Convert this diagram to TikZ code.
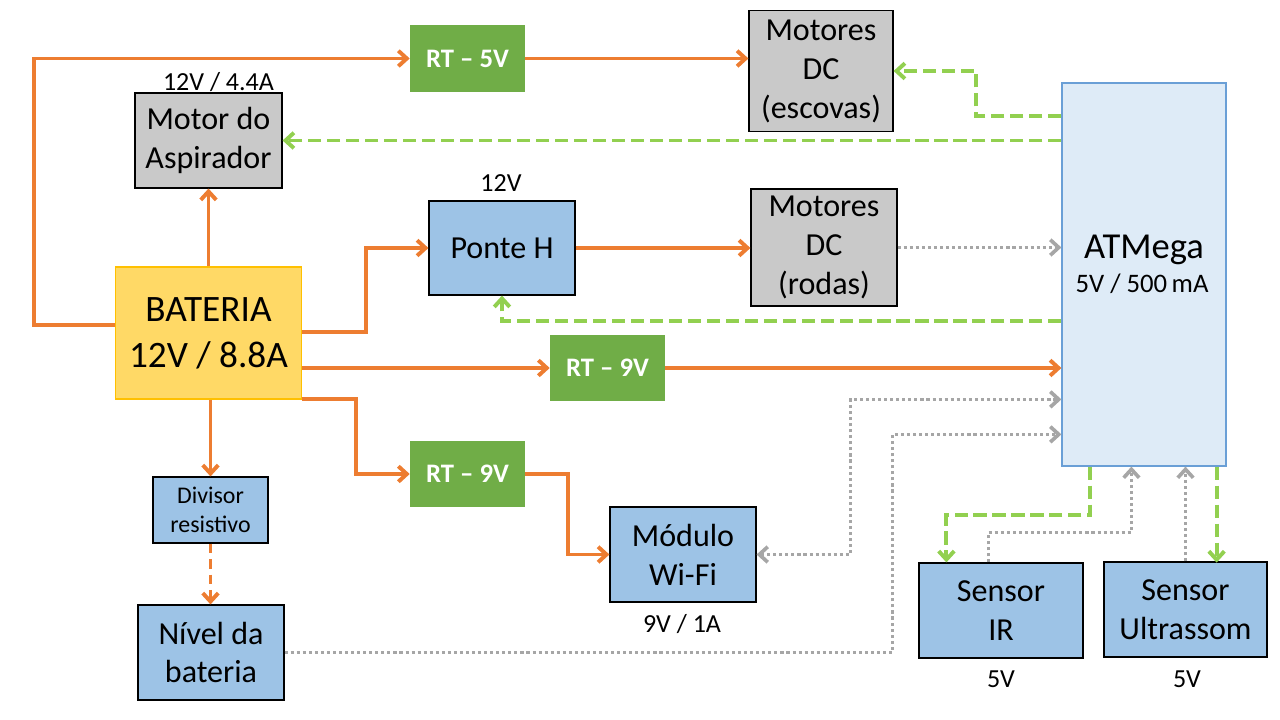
\documentclass[tikz,border=0pt]{standalone}
\usepackage{fontspec}
\setmainfont{Carlito}
\usetikzlibrary{arrows.meta,calc}
\definecolor{orng}{HTML}{ED7D31}
\definecolor{grn}{HTML}{92D050}
\definecolor{gry}{HTML}{A6A6A6}
\definecolor{boxgray}{HTML}{C9C9C9}
\definecolor{boxblue}{HTML}{9DC3E6}
\definecolor{rtgreen}{HTML}{70AD47}
\definecolor{batfill}{HTML}{FFD966}
\definecolor{batedge}{HTML}{FFC000}
\definecolor{atmfill}{HTML}{DEEBF7}
\definecolor{atmedge}{HTML}{6A9FD6}
\tikzset{
 blk/.style={draw=black, line width=0.8pt, align=center, inner sep=0pt, font=\fontsize{22.8}{27.7}\selectfont},
 grayblk/.style={blk, fill=boxgray},
 blueblk/.style={blk, fill=boxblue},
 rtblk/.style={fill=rtgreen, text=white, inner sep=0pt, font=\fontsize{19}{22}\selectfont\bfseries, minimum width=2.875cm, minimum height=1.66cm},
 lbl/.style={inner sep=0pt, anchor=base, font=\fontsize{18.5}{22}\selectfont},
 pw/.style={draw=orng, line width=2.8pt, ->},
 ctl/.style={draw=grn, line width=2.8pt, dash pattern=on 9.3pt off 4.2pt, ->},
 sig/.style={draw=gry, line width=2.6pt, dash pattern=on 2.2pt off 2.1pt, ->},
}
\begin{document}
\begin{tikzpicture}[x=0.025cm, y=-0.025cm, >={Straight Barb[length=6pt,width=11pt]}]
\useasboundingbox (0,0) rectangle (1280,720);
% nodes
\node[rtblk] (rt5) at (467.5,58.5) {RT – 5V};
\node[grayblk, minimum width=3.6cm, minimum height=3.025cm] (mesc) at (821,71) {Motores\\DC\\(escovas)};
\node[grayblk, minimum width=3.675cm, minimum height=2.375cm] (asp) at (208.5,140.5) {Motor do\\Aspirador};
\node[lbl] (asplbl) at (218.5,91) {12V / \underline{4.4A}};
\node[blueblk, minimum width=3.65cm, minimum height=2.35cm] (ponte) at (502,248) {Ponte H};
\node[lbl] (pontelbl) at (501,192) {12V};
\node[grayblk, minimum width=3.65cm, minimum height=2.925cm] (rodas) at (824,247.5) {Motores\\DC\\(rodas)};
\node[draw=atmedge, fill=atmfill, line width=0.8pt, inner sep=0pt, minimum width=4.1cm, minimum height=9.575cm] (atm) at (1144,274.5) {};
\node[inner sep=0pt, anchor=base, font=\fontsize{26}{30}\selectfont] (atmtxt) at (1144,259) {ATMega};
\node[lbl, font=\fontsize{19}{22}\selectfont] (atmsub) at (1142,293) {5V / 500\,mA};
\node[blk, draw=batedge, fill=batfill, line width=0.8pt, minimum width=4.65cm, minimum height=3.3cm, font=\fontsize{26.5}{32.5}\selectfont] (bat) at (208.5,333) {BATERIA\\12V / 8.8A};
\node[rtblk] (rt9a) at (607.5,368) {RT – 9V};
\node[rtblk] (rt9b) at (467.5,474) {RT – 9V};
\node[blueblk, minimum width=2.875cm, minimum height=1.65cm, font=\fontsize{17}{21}\selectfont] (div) at (210.5,510) {Divisor\\resistivo};
\node[blueblk, minimum width=3.65cm, minimum height=2.375cm] (niv) at (211,652.5) {Nível da\\bateria};
\node[blueblk, minimum width=3.65cm, minimum height=2.375cm] (wifi) at (683,554.5) {Módulo\\Wi-Fi};
\node[lbl] (wifilbl) at (682,632) {9V / 1A};
\node[blueblk, minimum width=4.1cm, minimum height=2.375cm] (sir) at (1001,610.5) {Sensor\\IR};
\node[lbl] (sirlbl) at (1001,687) {5V};
\node[blueblk, minimum width=4.075cm, minimum height=2.375cm] (sus) at (1185.5,609.5) {Sensor\\Ultrassom};
\node[lbl] (suslbl) at (1187,687) {5V};
% power (orange)
\draw[pw] ($(bat.west)+(0,-8)$) -- ++(-81,0) |- (rt5.west);
\draw[pw] (rt5.east) -- (rt5.east -| mesc.west);
\draw[pw] (bat.north) -- (asp.south);
\draw[pw] ($(bat.east)+(0,-1)$) -- ++(64,0) |- (ponte.west);
\draw[pw] (ponte.east) -- (ponte.east -| rodas.west);
\draw[pw] (bat.east |- rt9a.west) -- (rt9a.west);
\draw[pw] (rt9a.east) -- (rt9a.east -| atm.west);
\draw[pw] ($(bat.south east)+(0,-1)$) -- ++(54,0) |- (rt9b.west);
\draw[pw] (rt9b.east) -- ++(43,0) |- (wifi.west);
\draw[pw] (bat.south -| div.north) -- (div.north);
\draw[pw, dash pattern=on 7pt off 4pt] (div.south) -- (div.south |- niv.north);
% control (green dashed)
\draw[ctl] ($(atm.north west)+(0,34)$) -- ++(-85,0) |- (mesc.east);
\draw[ctl] (atm.west |- asp.east) -- (asp.east);
\draw[ctl] ($(atm.north west)+(0,239)$) -| (ponte.south);
\draw[ctl] ($(atm.south west)+(29,0)$) -- ++(0,48) -| ($(sir.north west)+(28,0)$);
\draw[ctl] ($(atm.south east)+(-10,0)$) -- ++(0,96);
% signals (gray dotted)
\draw[sig] (rodas.east) -- (rodas.east -| atm.west);
\draw[sig, <->] (wifi.east) -- ++(94,0) |- ($(atm.north west)+(0,317)$);
\draw[sig] (niv.east) -- ++(608,0) |- ($(atm.north west)+(0,352)$);
\draw[sig] ($(sir.north west)+(70,0)$) -- ++(0,-30) -| ($(atm.south west)+(70,0)$);
\draw[sig] (sus.north) -- (sus.north |- atm.south);
\end{tikzpicture}
\end{document}
